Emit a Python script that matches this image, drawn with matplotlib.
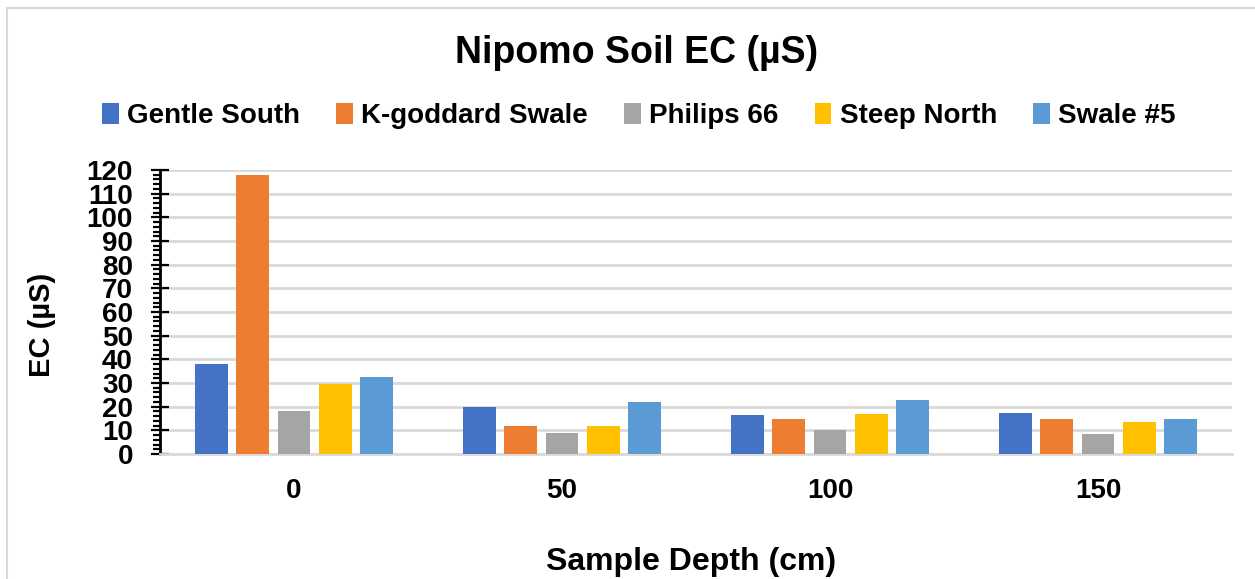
import matplotlib
matplotlib.use("Agg")
import matplotlib.pyplot as plt
from matplotlib.lines import Line2D
from matplotlib.ticker import MultipleLocator
import numpy as np

plt.rcParams['font.family'] = ['Liberation Sans', 'DejaVu Sans']
plt.rcParams['font.weight'] = 'bold'

# dane
depths = ['0', '50', '100', '150']
sites = ['Gentle South', 'K-goddard Swale', 'Philips 66', 'Steep North', 'Swale #5']
gentle_south = [38.0, 19.8, 16.4, 17.2]
k_goddard = [118.0, 12.0, 14.7, 15.0]
philips = [18.2, 8.7, 10.2, 8.3]
steep_north = [29.6, 11.7, 16.9, 13.7]
swale5 = [32.4, 22.0, 23.0, 15.0]
colors = ['#4472C4', '#ED7D31', '#A5A5A5', '#FFC000', '#5B9BD5']

series = [gentle_south, k_goddard, philips, steep_north, swale5]

fig = plt.figure(figsize=(12.55, 5.79), dpi=100)
ax = fig.add_axes([160/1255, 1-454/579, (1232-160)/1255, (454-170)/579])

x = np.arange(len(depths))
pitch = 0.154
width = 0.122
for i, (vals, name, c) in enumerate(zip(series, sites, colors)):
    ax.bar(x + (i-2)*pitch, vals, width, color=c, label=name, zorder=3)

ax.set_xlim(-0.5, 3.5)
ax.set_ylim(0, 120)
ax.yaxis.set_major_locator(MultipleLocator(10))
ax.yaxis.set_minor_locator(MultipleLocator(2))
ax.grid(axis='y', color='#d9d9d9', linewidth=2, zorder=0)
ax.set_axisbelow(True)

for s in ['top', 'right']:
    ax.spines[s].set_visible(False)
ax.spines['bottom'].set_color('#d9d9d9')
ax.spines['bottom'].set_linewidth(2)
ax.spines['left'].set_color('black')
ax.spines['left'].set_linewidth(2)

ax.set_xticks(x)
ax.set_xticklabels(depths)
ax.tick_params(axis='x', length=0, pad=17, labelsize=20)
ax.tick_params(axis='y', which='major', direction='inout', length=13, width=1.6, pad=13, labelsize=20)
ax.tick_params(axis='y', which='minor', direction='out', length=5, width=1.6)

fig.text(0.507, 1-53/579, 'Nipomo Soil EC (µS)', ha='center', va='center', fontsize=27, fontweight='bold')
fig.text(691/1255, 1-562/579, 'Sample Depth (cm)', ha='center', va='center', fontsize=23, fontweight='bold')
fig.text(42/1255, 1-325/579, 'EC (µS)', ha='center', va='center', rotation=90, fontsize=21, fontweight='bold')

fig.legend(loc='center', bbox_to_anchor=(0.509, 1-116/579), ncol=5, frameon=False,
           fontsize=20, handlelength=0.6, handleheight=0.8, handletextpad=0.3, columnspacing=1.3)

# ramka obszaru wykresu
fig.add_artist(Line2D([7/1255, 1], [1-8/579, 1-8/579], color='#d9d9d9', linewidth=1.5))
fig.add_artist(Line2D([7/1255, 7/1255], [0, 1-8/579], color='#d9d9d9', linewidth=1.5))

fig.savefig('out.png', dpi=100)
